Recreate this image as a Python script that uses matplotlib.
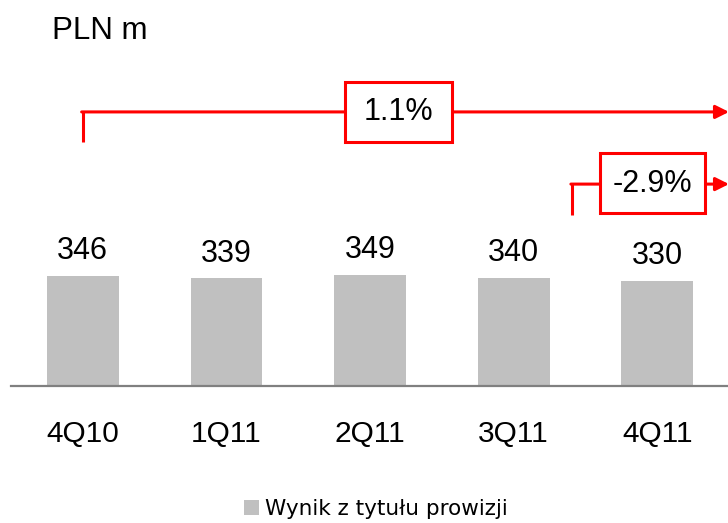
import numpy as np
import matplotlib.pyplot as plt
from matplotlib.patches import Rectangle

# chart values
quarters = ['4Q10', '1Q11', '2Q11', '3Q11', '4Q11']
commission = [346, 339, 349, 340, 330]
series_name = 'Wynik z tytułu prowizji'
change_year = '1.1%'
change_quarter = '-2.9%'

plt.rcParams['font.family'] = ['Liberation Sans', 'DejaVu Sans']

fig = plt.figure(figsize=(7.28, 5.23), dpi=100)
ax = fig.add_axes([11 / 728, 1 - 386 / 523, 718 / 728, 386 / 523])

x = np.arange(len(quarters))
bars = ax.bar(x, commission, width=0.5, color='#c0c0c0', label=series_name)

for xi, v in zip(x, commission):
    ax.annotate(str(v), (xi, v), xytext=(0, 12), textcoords='offset points',
                ha='center', va='baseline', fontsize=22)

ax.set_xlim(-0.5, 4.5)
ax.set_ylim(0, 1214)
ax.set_xticks(x)
ax.set_xticklabels(quarters, fontsize=21.5)
ax.tick_params(axis='x', length=0, pad=24.5)
ax.set_yticks([])
for s in ['top', 'left', 'right']:
    ax.spines[s].set_visible(False)
ax.spines['bottom'].set_color('#808080')
ax.spines['bottom'].set_linewidth(1.6)

red = '#ff0000'

# year-on-year bracket
y1, y1b = 862, 767
ax.plot([0, 0], [y1b, y1], color=red, lw=2.2, solid_capstyle='butt', clip_on=False)
ax.annotate('', xy=(4.5, y1), xytext=(-0.008, y1),
            arrowprops=dict(arrowstyle='-|>', color=red, lw=2.2, mutation_scale=20,
                            shrinkA=0, shrinkB=0), annotation_clip=False)
ax.add_patch(Rectangle((1.826, 767), 0.745, 189, fc='white', ec=red, lw=2.2, zorder=4))
ax.text(2.2, y1, change_year, ha='center', va='center', fontsize=22, zorder=5)

# quarter-on-quarter bracket
y2, y2b = 635, 538
ax.plot([3.407, 3.407], [y2b, y2], color=red, lw=2.2, solid_capstyle='butt', clip_on=False)
ax.annotate('', xy=(4.5, y2), xytext=(3.399, y2),
            arrowprops=dict(arrowstyle='-|>', color=red, lw=2.2, mutation_scale=20,
                            shrinkA=0, shrinkB=0), annotation_clip=False)
ax.add_patch(Rectangle((3.602, 544), 0.731, 189, fc='white', ec=red, lw=2.2, zorder=4))
ax.text(3.967, y2, change_quarter, ha='center', va='center', fontsize=22, zorder=5)

fig.text(52 / 728, 1 - 39 / 523, 'PLN m', fontsize=22.5, va='baseline')

fig.legend(handles=[bars], loc='center', bbox_to_anchor=(376 / 728, 1 - 509 / 523),
           frameon=False, prop={'family': 'DejaVu Sans', 'size': 15.5},
           handlelength=0.7, handleheight=0.7, handletextpad=0.3)

fig.savefig('out.png', dpi=100)
